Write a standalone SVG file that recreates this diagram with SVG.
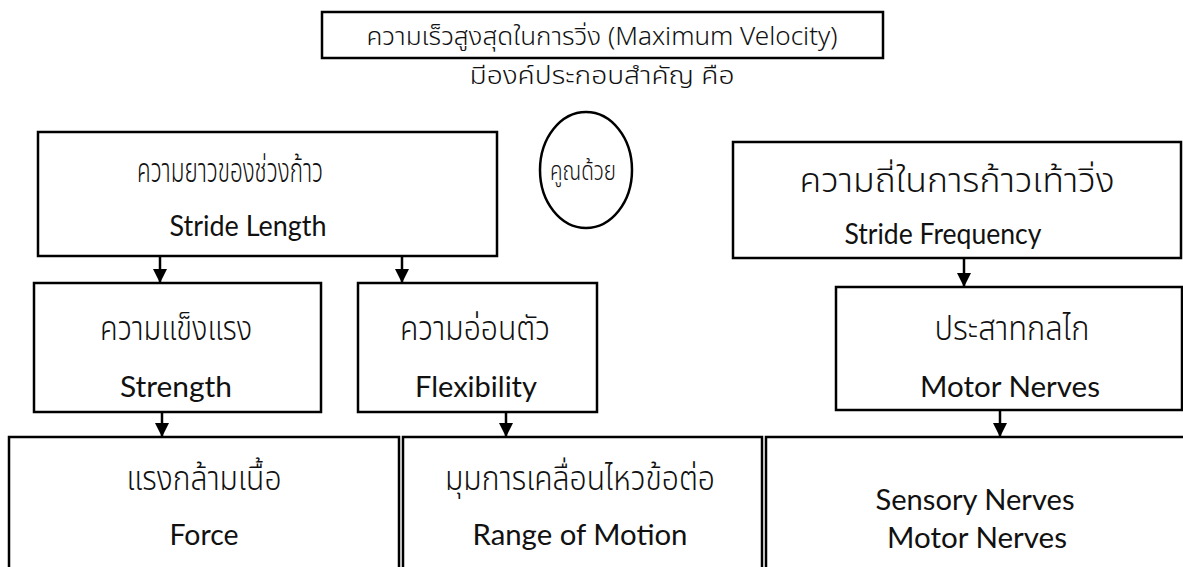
<svg xmlns="http://www.w3.org/2000/svg" width="1183" height="567" viewBox="0 0 1183 567">
<defs>
<style>
.box{fill:#fff;stroke:#000;stroke-width:2.5}
.th{font-family:"Noto Sans Thai","Noto Sans","DejaVu Sans",sans-serif;font-weight:300;fill:#111;text-anchor:middle}
.en{font-family:Lato,"Open Sans","Liberation Sans",sans-serif;font-weight:400;fill:#111;text-anchor:middle}
.ln{stroke:#000;stroke-width:2.5;fill:none}
</style>
<marker id="ah" viewBox="0 0 14 14" refX="14" refY="7" markerWidth="14" markerHeight="14" markerUnits="userSpaceOnUse" orient="auto">
<path d="M0,0 L14,7 L0,14 z" fill="#000"/>
</marker>
</defs>
<rect width="1183" height="567" fill="#fff"/>
<g id="top">
<rect class="box" x="322" y="12" width="561" height="46"/>
<text class="th" x="602" y="45" font-size="25" textLength="471" lengthAdjust="spacingAndGlyphs">ความเร็วสูงสุดในการวิ่ง (Maximum Velocity)</text>
<text class="th" x="602" y="84" font-size="25" textLength="265" lengthAdjust="spacingAndGlyphs">มีองค์ประกอบสำคัญ คือ</text>
</g>
<g id="multiply">
<ellipse cx="586" cy="170" rx="46" ry="58" fill="#fff" stroke="#000" stroke-width="2.5"/>
<text class="th" x="583" y="180" font-size="26" textLength="66" lengthAdjust="spacingAndGlyphs">คูณด้วย</text>
</g>
<g id="stride-length">
<rect class="box" x="38" y="132" width="459" height="124"/>
<text class="th" x="230" y="182" font-size="33" textLength="186" lengthAdjust="spacingAndGlyphs">ความยาวของช่วงก้าว</text>
<text class="en" x="248" y="236" font-size="28" textLength="157" lengthAdjust="spacingAndGlyphs">Stride Length</text>
</g>
<g id="stride-frequency">
<rect class="box" x="733" y="142" width="448" height="116"/>
<text class="th" x="957" y="192" font-size="33" textLength="315" lengthAdjust="spacingAndGlyphs">ความถี่ในการก้าวเท้าวิ่ง</text>
<text class="en" x="943" y="244" font-size="28" textLength="197" lengthAdjust="spacingAndGlyphs">Stride Frequency</text>
</g>
<g id="strength">
<rect class="box" x="34" y="283" width="287" height="129"/>
<text class="th" x="176" y="340" font-size="33" textLength="152" lengthAdjust="spacingAndGlyphs">ความแข็งแรง</text>
<text class="en" x="176" y="397" font-size="28" textLength="112" lengthAdjust="spacingAndGlyphs">Strength</text>
</g>
<g id="flexibility">
<rect class="box" x="358" y="283" width="239" height="129"/>
<text class="th" x="475" y="340" font-size="33" textLength="150" lengthAdjust="spacingAndGlyphs">ความอ่อนตัว</text>
<text class="en" x="476" y="397" font-size="28" textLength="122" lengthAdjust="spacingAndGlyphs">Flexibility</text>
</g>
<g id="motor-nerves">
<rect class="box" x="836" y="287" width="346" height="123"/>
<text class="th" x="1012" y="340" font-size="33" textLength="155" lengthAdjust="spacingAndGlyphs">ประสาทกลไก</text>
<text class="en" x="1010" y="397" font-size="28" textLength="180" lengthAdjust="spacingAndGlyphs">Motor Nerves</text>
</g>
<g id="force">
<rect class="box" x="9" y="437" width="390" height="140"/>
<text class="th" x="204" y="490" font-size="33" textLength="155" lengthAdjust="spacingAndGlyphs">แรงกล้ามเนื้อ</text>
<text class="en" x="204" y="545" font-size="28" textLength="69" lengthAdjust="spacingAndGlyphs">Force</text>
</g>
<g id="range-of-motion">
<rect class="box" x="403" y="437" width="359" height="140"/>
<text class="th" x="580" y="490" font-size="33" textLength="270" lengthAdjust="spacingAndGlyphs">มุมการเคลื่อนไหวข้อต่อ</text>
<text class="en" x="580" y="545" font-size="28" textLength="215" lengthAdjust="spacingAndGlyphs">Range of Motion</text>
</g>
<g id="nerves">
<rect class="box" x="766" y="437" width="420" height="140"/>
<text class="en" x="975" y="510" font-size="28" textLength="199" lengthAdjust="spacingAndGlyphs">Sensory Nerves</text>
<text class="en" x="977" y="548" font-size="28" textLength="180" lengthAdjust="spacingAndGlyphs">Motor Nerves</text>
</g>
<g id="connectors">
<line class="ln" x1="160" y1="256" x2="160" y2="283" marker-end="url(#ah)"/>
<line class="ln" x1="402" y1="256" x2="402" y2="283" marker-end="url(#ah)"/>
<line class="ln" x1="964" y1="258" x2="964" y2="287" marker-end="url(#ah)"/>
<line class="ln" x1="162" y1="412" x2="162" y2="437" marker-end="url(#ah)"/>
<line class="ln" x1="506" y1="412" x2="506" y2="437" marker-end="url(#ah)"/>
<line class="ln" x1="1000" y1="410" x2="1000" y2="437" marker-end="url(#ah)"/>
</g>
</svg>
